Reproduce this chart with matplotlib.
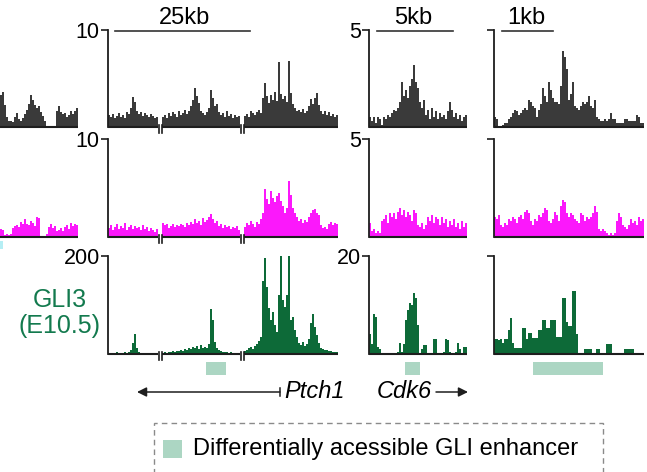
import numpy as np
import matplotlib
matplotlib.use('Agg')
import matplotlib.pyplot as plt
from matplotlib.patches import Rectangle
from matplotlib.lines import Line2D
import matplotlib.transforms as mtransforms

plt.rcParams['font.family'] = ['Liberation Sans', 'DejaVu Sans']

# ---------------- data ----------------
# left (cropped) locus
left_r1 = [3.3, 3.6, 2.3, 1.0, 0.6, 0.6, 0.5, 1.0, 1.4, 0.8, 0.6, 0.9, 1.3, 1.8, 2.4, 3.3, 2.8, 2.3, 2.0, 2.2,
           1.5, 1.1, 0.6, 0.05, 0.0, 0.0, 0.0, 0.1, 1.6, 2.2, 1.5, 1.3, 1.4, 1.0, 1.2, 1.6, 1.3, 1.7, 2.0]
left_r2 = [0.8, 0.7, 0.2, 0.3, 0.2, 0.3, 0.9, 1.1, 1.2, 1.0, 1.5, 1.3, 1.8, 1.3, 1.2, 1.6, 1.4, 1.1, 2.0, 1.9,
           0.1, 0.05, 0.1, 0.3, 1.0, 1.3, 0.9, 1.1, 0.6, 0.7, 0.9, 0.6, 1.0, 1.2, 0.8, 1.4, 1.1, 1.3, 1.2]

# Ptch1 locus (three segments separated by breaks)
ptch_r1_s1 = [1.2, 1.0, 1.3, 0.9, 1.1, 1.4, 1.0, 1.2, 0.9, 1.5, 1.3, 2.0, 3.1, 2.6, 1.6, 1.3, 1.5, 1.1, 1.4, 1.2,
              1.0, 1.3, 1.1, 0.9, 1.0]
ptch_r1_s2 = [1.0, 1.2, 0.9, 1.4, 1.1, 1.5, 1.3, 1.0, 1.6, 1.2, 1.4, 1.8, 1.3, 1.6, 2.2, 2.8, 4.0, 3.2, 2.5, 1.7,
              1.4, 1.2, 1.5, 2.0, 3.8, 3.0, 2.2, 2.4, 1.5, 1.2, 1.4, 1.0, 1.6, 1.1, 1.3, 0.9, 1.2, 1.0, 1.1]
ptch_r1_s3 = [1.1, 1.3, 1.0, 1.7, 1.4, 1.2, 1.5, 1.8, 1.4, 3.0, 4.5, 3.2, 2.5, 3.3, 2.8, 3.6, 2.7, 6.7, 3.4, 2.9,
              3.2, 2.6, 6.8, 3.5, 2.4, 2.0, 1.6, 1.8, 1.5, 1.9, 1.4, 1.7, 2.2, 2.9, 2.4, 3.0, 3.5, 2.3, 1.6, 1.3,
              1.7, 1.2, 1.5, 1.1, 1.3, 1.0, 1.2]

ptch_r2_s1 = [0.9, 1.2, 0.7, 1.0, 1.3, 0.8, 1.1, 0.9, 1.4, 0.7, 1.0, 1.2, 0.8, 1.1, 0.9, 1.0, 0.7, 1.2, 0.8, 1.0,
              0.6, 0.9, 0.7, 0.5, 0.8]
ptch_r2_s2 = [1.4, 1.2, 1.3, 0.9, 1.1, 1.3, 1.0, 1.2, 1.1, 1.3, 1.2, 1.0, 1.4, 1.2, 1.5, 1.3, 1.8, 1.4, 1.6, 1.2,
              1.9, 1.5, 1.7, 2.0, 2.3, 1.8, 1.4, 1.6, 1.1, 1.3, 0.9, 1.2, 1.0, 1.1, 0.8, 1.0, 0.9, 1.1, 0.7]
ptch_r2_s3 = [1.0, 1.4, 1.2, 1.6, 1.3, 1.0, 1.5, 1.3, 1.8, 2.5, 4.9, 3.9, 3.4, 4.7, 4.0, 3.6, 4.2, 4.5, 3.7, 3.2,
              2.5, 3.0, 5.7, 4.3, 3.0, 2.4, 2.0, 1.6, 1.8, 1.4, 1.7, 1.5, 2.0, 2.4, 2.8, 2.9, 2.5, 2.2, 1.2, 0.9,
              1.0, 0.8, 1.3, 1.5, 1.2, 1.4, 1.3]

ptch_r3_s1 = [3, 2, 3, 2, 4, 3, 2, 3, 4, 3, 5, 8, 22, 41, 12, 4, 3, 2, 3, 2, 3, 2, 2, 3, 2]
ptch_r3_s2 = [3, 4, 3, 5, 4, 6, 5, 7, 6, 8, 7, 10, 9, 12, 10, 14, 12, 16, 11, 18,
              13, 15, 12, 20, 92, 70, 25, 12, 8, 6, 5, 4, 5, 3, 4, 3, 2, 3, 2]
ptch_r3_s3 = [6, 9, 12, 14, 10, 16, 20, 26, 35, 150, 196, 137, 94, 70, 86, 60, 45, 120, 200, 110,
              95, 120, 200, 69, 75, 48, 35, 22, 18, 24, 16, 20, 30, 63, 82, 55, 38, 22, 12, 10,
              8, 9, 6, 7, 5, 4, 5]

# Cdk6 locus
cdk_r1 = [0.5, 0.3, 0.5, 0.2, 0.5, 0.4, 0.1, 0.5, 0.4, 0.6, 0.5, 0.7, 0.9, 0.8, 1.0, 1.3, 2.3, 1.6, 1.9, 1.5,
          2.1, 2.5, 3.2, 2.3, 2.0, 1.3, 1.0, 1.4, 0.6, 0.9, 0.4, 1.0, 0.5, 0.8, 0.4, 0.7, 0.5, 0.6, 0.4, 0.8,
          1.3, 0.9, 0.5, 0.7, 0.4, 0.6, 0.3, 0.5, 0.6]
cdk_r2 = [0.7, 0.3, 0.4, 0.2, 0.3, 0.2, 0.8, 0.9, 1.1, 0.7, 1.2, 1.0, 1.2, 0.9, 1.3, 1.5, 1.1, 1.4, 1.0, 1.3,
          1.1, 0.8, 1.4, 1.2, 0.6, 0.5, 0.7, 0.4, 0.6, 1.0, 0.8, 1.1, 0.7, 1.0, 0.9, 0.6, 1.0, 0.7, 0.9, 0.5,
          0.8, 0.6, 0.9, 0.5, 0.7, 0.4, 0.8, 0.5, 0.7]
cdk_r3 = [4.0, 2.0, 8.2, 7.5, 1.5, 1.0, 0, 0, 0, 0, 0, 0, 0, 0, 0.5, 2.2, 0.5, 2.0, 7.0, 9.0,
          10.5, 10.0, 12.5, 11.5, 6.0, 0.3, 1.0, 1.9, 1.9, 0, 0, 0.3, 3.0, 3.0, 0.3, 0, 0, 0.5, 3.0, 2.8,
          0.5, 0, 0, 0.5, 2.2, 1.0, 0, 1.5, 1.5]

# 1kb locus
onekb_r1 = [0.5, 0.4, 0.0, 0.0, 0.1, 0.2, 0.2, 0.4, 0.5, 0.7, 0.9, 0.8, 0.6, 0.7, 0.9, 1.0, 0.9, 1.4, 1.3, 1.1,
            1.0, 0.5, 0.9, 1.2, 2.0, 1.6, 1.3, 2.3, 1.9, 1.5, 1.3, 1.3, 1.2, 2.1, 3.9, 3.6, 3.0, 1.4, 1.7, 2.3,
            1.1, 1.0, 0.9, 1.1, 1.3, 1.2, 1.3, 1.6, 1.1, 1.0, 1.4, 0.5, 0.4, 0.3, 0.3, 0.4, 0.3, 0.4, 0.7, 0.4,
            0.4, 0.2, 0.2, 0.2, 0.2, 0.4, 0.4, 0.3, 0.3, 0.3, 0.3, 0.6, 0.5, 0.2, 0.2]
onekb_r2 = [1.0, 0.9, 1.1, 0.6, 0.5, 0.7, 0.6, 0.9, 0.8, 1.0, 0.9, 0.7, 1.0, 1.1, 0.9, 1.3, 1.4, 1.2, 0.8, 0.6,
            0.9, 0.8, 1.1, 1.0, 1.2, 1.5, 1.4, 0.8, 0.7, 0.9, 1.3, 1.1, 0.8, 1.6, 1.9, 1.8, 1.2, 1.0, 1.2, 1.1,
            0.9, 0.8, 0.7, 1.2, 1.1, 0.8, 1.0, 0.9, 1.0, 1.2, 1.6, 1.3, 0.4, 0.3, 0.4, 0.3, 0.2, 0.1, 0.2, 0.1,
            0.2, 0.8, 1.2, 1.0, 0.6, 0.5, 0.4, 0.6, 0.9, 0.7, 0.8, 0.6, 1.0, 0.8, 0.9]
onekb_r3 = [3.0, 3.0, 2.8, 3.0, 2.2, 3.0, 3.0, 5.0, 7.4, 2.2, 1.2, 1.2, 1.3, 1.2, 5.3, 5.3, 3.0, 4.2, 4.2, 3.3,
            3.3, 3.3, 5.0, 5.0, 6.9, 6.9, 5.3, 5.3, 6.9, 6.9, 6.9, 3.5, 3.5, 3.5, 11.4, 11.4, 6.6, 5.7, 5.7, 12.9,
            12.9, 4.0, 0.3, 0.3, 0.0, 1.1, 1.1, 1.1, 1.1, 0.0, 0.0, 1.1, 1.1, 0.0, 0.0, 0.0, 2.1, 2.1, 2.1, 0.0,
            0.0, 0.0, 0.0, 0.0, 0.0, 1.1, 1.1, 1.1, 1.1, 1.1, 0.0, 0.0, 0.0, 0.0, 0.0]

row_ymax = {'left': [10, 10], 'ptch1': [10, 10, 200], 'cdk6': [5, 5, 20], 'onekb': [5, 5, 20]}
row_ticklabels = {'ptch1': ['10', '10', '200'], 'cdk6': ['5', '5', '20'], 'onekb': ['', '', '']}

# enhancer positions (bin ranges in each locus)
enh_ptch1 = (49, 59)
enh_cdk6 = (18, 25.5)
enh_onekb = (19.5, 54.5)

scale_labels = ['25kb', '5kb', '1kb']
gene_names = ['Ptch1', 'Cdk6']
legend_label = 'Differentially acessible GLI enhancer'

# ---------------- style ----------------
W, H = 647, 472
GRAY = '#3a3a3a'
MAG = '#fb18fb'
GREEN = '#0d6a38'
GREEN_TXT = '#137a4e'
ENH = '#acd6c3'
LINE = '#1e1e1e'

fig = plt.figure(figsize=(W / 100, H / 100), dpi=100)

ROWS = [(30, 127), (139, 237), (256, 354)]
COLORS = [GRAY, MAG, GREEN]


def px_rect(x0, x1, ytop, ybase):
    return [x0 / W, 1 - ybase / H, (x1 - x0) / W, (ybase - ytop) / H]


def fx(x):
    return x / W


def fy(y):
    return 1 - y / H


def draw_track(x0, x1, row, segments, gap, color, ymax, label, spine=True):
    ytop, ybase = ROWS[row]
    ax = fig.add_axes(px_rect(x0, x1, ytop, ybase))
    start = 0
    ends = []
    for i, seg in enumerate(segments):
        seg = np.asarray(seg, dtype=float)
        edges = np.arange(len(seg) + 1) + start
        ax.stairs(np.minimum(seg, ymax), edges, fill=True, color=color, lw=0)
        ax.plot([start, start + len(seg)], [0, 0], color=LINE, lw=1.5,
                clip_on=False, solid_capstyle='butt', zorder=5)
        ends.append((start, start + len(seg)))
        start += len(seg) + gap
    total = start - gap
    tr = mtransforms.blended_transform_factory(ax.transData, ax.transAxes)
    for (a0, a1), (b0, b1) in zip(ends[:-1], ends[1:]):
        for xb in (a1 + 0.25, b0 - 0.25):
            ax.plot([xb, xb], [-0.065, 0.02], color=LINE, lw=1.2, transform=tr,
                    clip_on=False, zorder=6)
    ax.set_xlim(0, total)
    ax.set_ylim(0, ymax)
    for s in ('top', 'right', 'bottom'):
        ax.spines[s].set_visible(False)
    ax.set_xticks([])
    if spine:
        ax.spines['left'].set_color(LINE)
        ax.spines['left'].set_linewidth(1.3)
        ax.set_yticks([ymax])
        ax.set_yticklabels([label])
        ax.tick_params(axis='y', length=5, width=1.2, color=LINE, pad=1, labelsize=15.5, direction='out')
    else:
        ax.spines['left'].set_visible(False)
        ax.set_yticks([])
    ax.patch.set_alpha(0)
    return ax


# left cropped locus
draw_track(0, 78, 0, [left_r1], 0, GRAY, row_ymax['left'][0], '', spine=False)
draw_track(0, 78, 1, [left_r2], 0, MAG, row_ymax['left'][1], '', spine=False)

# Ptch1
ptch_rows = [[ptch_r1_s1, ptch_r1_s2, ptch_r1_s3],
             [ptch_r2_s1, ptch_r2_s2, ptch_r2_s3],
             [ptch_r3_s1, ptch_r3_s2, ptch_r3_s3]]
ptch_axes = []
for r in range(3):
    ptch_axes.append(draw_track(108, 338, r, ptch_rows[r], 2, COLORS[r],
                                row_ymax['ptch1'][r], row_ticklabels['ptch1'][r]))

# Cdk6
cdk_rows = [cdk_r1, cdk_r2, cdk_r3]
cdk_axes = []
for r in range(3):
    cdk_axes.append(draw_track(369, 467, r, [cdk_rows[r]], 0, COLORS[r],
                               row_ymax['cdk6'][r], row_ticklabels['cdk6'][r]))

# 1kb
kb_rows = [onekb_r1, onekb_r2, onekb_r3]
kb_axes = []
for r in range(3):
    kb_axes.append(draw_track(494, 644, r, [kb_rows[r]], 0, COLORS[r],
                              row_ymax['onekb'][r], row_ticklabels['onekb'][r]))

# enhancer boxes under the GLI3 row
for ax, (e0, e1) in zip([ptch_axes[2], cdk_axes[2], kb_axes[2]], [enh_ptch1, enh_cdk6, enh_onekb]):
    tr = mtransforms.blended_transform_factory(ax.transData, ax.transAxes)
    ax.add_patch(Rectangle((e0, -0.215), e1 - e0, 0.133, transform=tr, color=ENH,
                           lw=0, clip_on=False))

# scale bars
for label, (x0, x1), xc in zip(scale_labels, [(115, 250), (377, 453), (502, 553)], [185, 413, 526]):
    fig.add_artist(Line2D([fx(x0), fx(x1)], [fy(30.5), fy(30.5)], color='#333333', lw=1.2))
    fig.text(fx(xc), fy(18), label, ha='center', va='center', fontsize=17)

# GLI3 label
fig.text(fx(60), fy(300), 'GLI3', ha='center', va='center', fontsize=18, color=GREEN_TXT)
fig.text(fx(60), fy(326), '(E10.5)', ha='center', va='center', fontsize=18, color=GREEN_TXT)

# gene arrows
fig.add_artist(Line2D([fx(280), fx(280)], [fy(388), fy(396)], color=LINE, lw=1.1))
fig.text(fx(284), fy(392), gene_names[0], ha='left', va='center', fontsize=17, style='italic')
fig.text(fx(377), fy(392), gene_names[1], ha='left', va='center', fontsize=17, style='italic')
ann_ax = fig.add_axes([0, 0, 1, 1])
ann_ax.set_axis_off()
ann_ax.set_xlim(0, 1)
ann_ax.set_ylim(0, 1)
ann_ax.annotate('', xy=(fx(137), fy(392)), xytext=(fx(280), fy(392)),
                arrowprops=dict(arrowstyle='-|>', color=LINE, lw=1.1, mutation_scale=14,
                                shrinkA=0, shrinkB=0))
ann_ax.annotate('', xy=(fx(468), fy(392)), xytext=(fx(436), fy(392)),
                arrowprops=dict(arrowstyle='-|>', color=LINE, lw=1.1, mutation_scale=14,
                                shrinkA=0, shrinkB=0))

# legend box
fig.add_artist(Rectangle((fx(154), fy(480)), fx(603) - fx(154), fy(423) - fy(480),
                         transform=fig.transFigure, fill=False, ec='#8a8a8a', lw=1.0,
                         ls=(0, (4, 3))))
fig.add_artist(Rectangle((fx(163), fy(458)), fx(182) - fx(163), fy(440) - fy(458),
                         transform=fig.transFigure, color=ENH, lw=0))
fig.text(fx(193), fy(449), legend_label, ha='left', va='center', fontsize=17)

# small cyan corner of a neighbouring element
fig.add_artist(Rectangle((0, fy(249)), fx(3), fy(241) - fy(249), transform=fig.transFigure,
                         color='#b5eef4', lw=0))

fig.savefig('out.png', dpi=100)
